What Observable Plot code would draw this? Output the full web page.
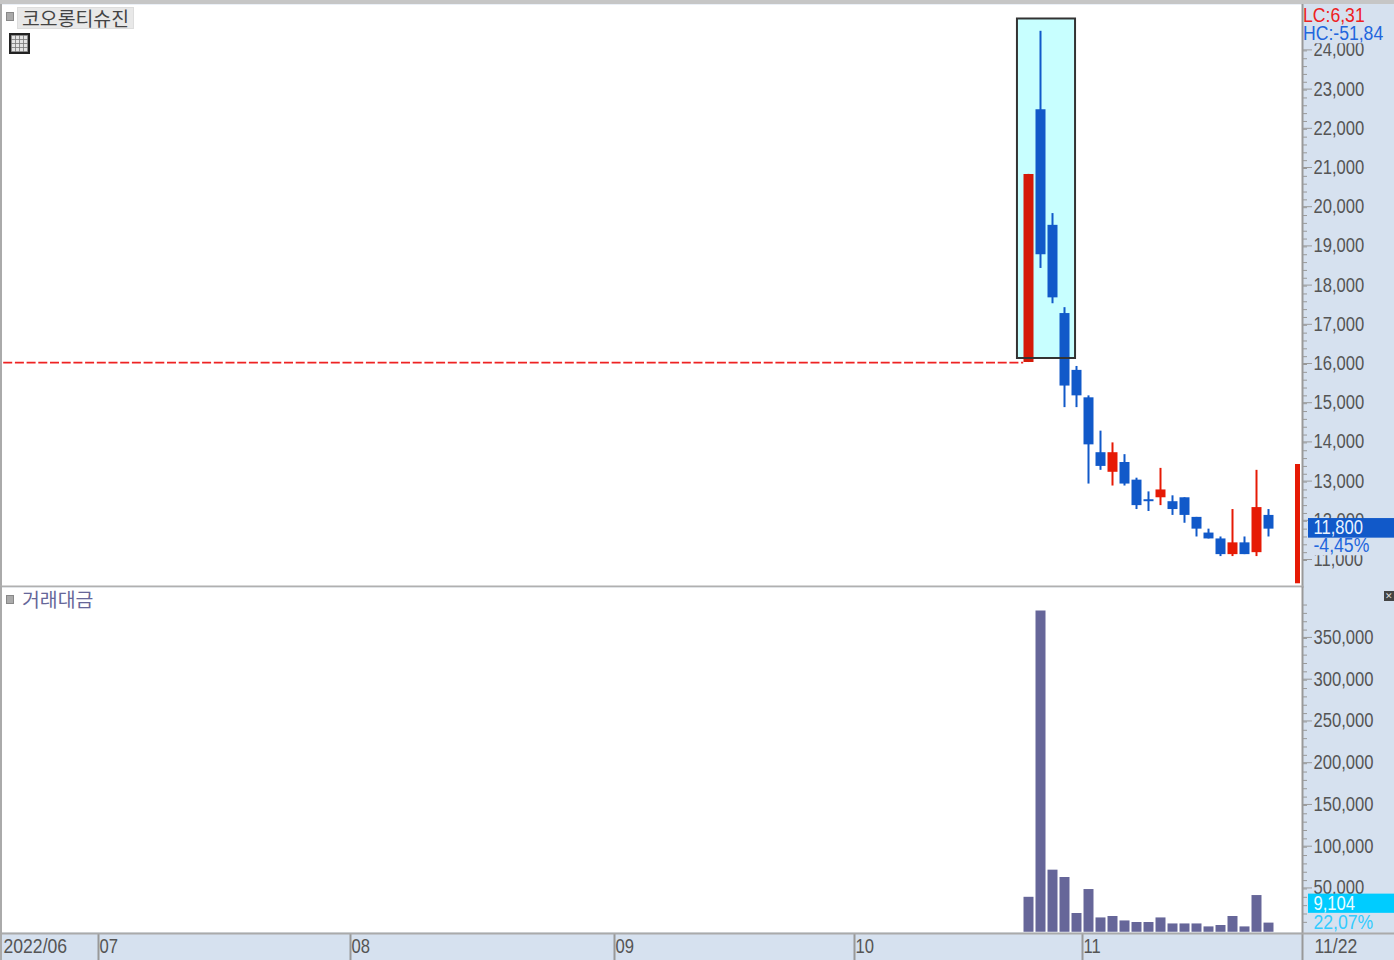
<!DOCTYPE html>
<html><head><meta charset="utf-8">
<script src="https://cdn.jsdelivr.net/npm/d3@7"></script>
<script src="https://cdn.jsdelivr.net/npm/@observablehq/plot@0.6"></script>
<style>
html,body{margin:0;padding:0;background:#d6e1ef;overflow:hidden}
#page{position:relative;width:1394px;height:960px;overflow:hidden}
#page svg{position:absolute;left:0;max-width:none;background:none}
.lab{position:absolute;font:19.4px "Noto Sans CJK KR",sans-serif;line-height:20px;white-space:nowrap}
.sq{position:absolute;left:6px;width:6px;height:7px;background:#aaa;border:1px solid #888}
</style></head><body><div id="page"></div>
<script>
// sessions counted back from the last session (2022-11-22)
const sessions = d3.range(-20, 1);
const dates = ["10/25","10/26","10/27","10/28","10/31","11/01","11/02","11/03","11/04","11/07","11/08","11/09","11/10","11/11","11/14","11/15","11/16","11/17","11/18","11/21","11/22"];
const opens  = [16050,22500,19550,17300,15850,15150,13750,13250,13500,13050,12550,12600,12500,12600,12100,11700,11550,11150,11450,11200,12150];
const highs  = [20850,24500,19850,17450,15950,15200,14300,14000,13700,13100,12750,13350,12650,12600,12100,11800,11600,12300,11600,13300,12300];
const lows   = [16050,18450,17550,14900,14900,12950,13300,12900,12900,12300,12250,12400,12150,11950,11600,11550,11100,11100,11150,11100,11600];
const closes = [20850,18800,17700,15450,15200,13950,13400,13750,12950,12400,12500,12800,12300,12150,11800,11550,11150,11450,11150,12350,11800];
const turnover = [40000,383000,72500,63700,20600,49300,15300,17000,11700,9800,9800,15300,8100,8100,8100,4550,6200,17000,4550,42100,9104];

const priceTicks = d3.range(11000, 24001, 1000);
const priceMinor = d3.range(11000, 24001, 200);
const volumeTicks = d3.range(50000, 350001, 50000);
const volumeMinor = d3.range(10000, 390001, 10000);
const monthLabels = ["2022/06","07","08","09","10","11"];
const monthStarts = [-105.5,-97.5,-76.5,-54.5,-34.5,-15.5];

const listingPrice = 16050;
const rangeLow = 10406, rangeHigh = 13449;
const boxSessions = [-20.92,-16.08], boxPrices = [16153,24814];

const C = {blue:"#1159c9", red:"#e61a05", panel:"#d6e1ef", line:"#999", text:"#555", vol:"#666699", cyan:"#00ccff"};
const font = '"Liberation Sans",sans-serif';
const xScale = {domain:[-1268/12, 34/12], range:[0,1302], axis:null};
const xEnd = 126/12, xLabel = 45/12, xBox = 40/12, xHead = 34.5/12;
const candles = sessions.map((s,i)=>({s,date:dates[i],o:opens[i],h:highs[i],l:lows[i],c:closes[i],up:closes[i]>=opens[i]}));
const col = (d,i)=>d.up?(d.s===-20?"#d41a08":C.red):C.blue;
const fmt = d3.format(",");

const base = {width:1394, marginLeft:0, marginRight:92, marginTop:0, marginBottom:0,
  style:{fontFamily:font,fontSize:"20px",background:"none",overflow:"visible"}};
const labelText = (arr,opt)=>Plot.text(arr,{textAnchor:"start",fontSize:20,...opt});
const majorAxis = ticks=>Plot.axisY({anchor:"right",ticks,tickSize:9,tickPadding:2,tickFormat:fmt,fill:C.text,stroke:C.line,fontSize:20,textAnchor:"start",dy:-1});
const minorAxis = ticks=>Plot.axisY({anchor:"right",ticks,tickSize:4,text:null,stroke:C.line});

const price = Plot.plot({...base, height:582, x:xScale, y:{domain:[11000-26/0.0392,11000+556/0.0392],range:[582,0],axis:null},
 marks:[
  Plot.frame({fill:"#fff",stroke:"none"}),
  Plot.rect([0],{x1:boxSessions[0],x2:boxSessions[1],y1:boxPrices[0],y2:boxPrices[1],fill:"#c8ffff"}),
  Plot.ruleY([listingPrice],{x1:-105.4,x2:-20.4,stroke:"#ee2222",strokeWidth:1.8,strokeDasharray:"9,2.7"}),
  Plot.ruleX(candles,{x:"s",y1:"l",y2:"h",stroke:col,strokeWidth:2}),
  Plot.ruleX(candles,{x:"s",y1:"o",y2:"c",stroke:col,strokeWidth:10}),
  Plot.rect([0],{x1:boxSessions[0],x2:boxSessions[1],y1:boxPrices[0],y2:boxPrices[1],fill:"none",stroke:"#333",strokeWidth:2}),
  Plot.ruleX([29/12],{y1:rangeLow,y2:rangeHigh,stroke:"#e61a05",strokeWidth:5}),
  minorAxis(priceMinor),
  majorAxis(priceTicks),
  Plot.rect([0],{x1:xHead,x2:xEnd,y1:24180,y2:25100,fill:C.panel}),
  Plot.rect([0],{x1:xBox,x2:xEnd,y1:11120,y2:11570,fill:C.panel}),
  Plot.rect([0],{x1:xBox,x2:xEnd,y1:11570,y2:12070,fill:C.blue}),
  labelText(["LC:6,31"],{x:xHead,y:24903,fill:"#ee2222"}),
  labelText(["HC:-51,84"],{x:xHead,y:24444,fill:"#2266dd"}),
  labelText(["11,800"],{x:xLabel,y:11829,fill:"#e8f2ff"}),
  labelText(["-4,45%"],{x:xLabel,y:11383,fill:"#2266dd"}),
  Plot.frame({anchor:"left",stroke:"#aaa",strokeWidth:3}),
  Plot.frame({anchor:"right",stroke:C.line,strokeWidth:2}),
  Plot.frame({anchor:"bottom",stroke:"#b0b0b0",strokeWidth:2})
 ]});
price.style.top="4px";

const volume = Plot.plot({...base, height:345, x:xScale, y:{domain:[-2156,411000],range:[345,0],axis:null},
 marks:[
  Plot.frame({fill:"#fff",stroke:"none"}),
  Plot.ruleX(candles,{x:"s",y1:-1900,y2:(d,i)=>turnover[i],stroke:C.vol,strokeWidth:10}),
  minorAxis(volumeMinor),
  majorAxis(volumeTicks),
  Plot.rect([0],{x1:xBox,x2:xEnd,y1:20800,y2:43800,fill:C.cyan}),
  labelText(["9,104"],{x:xLabel,y:32000,fill:"#eafcff"}),
  labelText(["22,07%"],{x:xLabel,y:9800,fill:"#33ccff"}),
  Plot.frame({anchor:"left",stroke:"#aaa",strokeWidth:3}),
  Plot.frame({anchor:"right",stroke:C.line,strokeWidth:2})
 ]});
volume.style.top="587px";

const timeAxis = Plot.plot({...base, marginRight:0, height:27,
 x:{domain:[-1268/12, xEnd],range:[0,1394],axis:null},
 marks:[
  Plot.ruleX(monthStarts.slice(1),{stroke:C.line,strokeWidth:2}),
  Plot.ruleX([34/12],{stroke:C.line,strokeWidth:2}),
  labelText(monthLabels,{x:(d,i)=>monthStarts[i],dx:1,frameAnchor:"middle",fill:C.text}),
  labelText(["11/22"],{x:46/12,frameAnchor:"middle",fill:C.text}),
  Plot.frame({anchor:"top",stroke:"#aaa",strokeWidth:2}),
  Plot.frame({anchor:"bottom",stroke:"#aaa",strokeWidth:1}),
  Plot.frame({anchor:"left",stroke:"#aaa",strokeWidth:3})
 ]});
timeAxis.style.top="933px";

const page=document.getElementById("page");
page.append(price,volume,timeAxis);
// the reference's labels use a narrow bitmap face: condense the installed one
page.querySelectorAll("svg text").forEach(t=>{
  const len=t.getComputedTextLength();
  const f=/[:%\/]/.test(t.textContent)?0.88:0.83;
  if(len>0){t.setAttribute("textLength",(len*f).toFixed(1));t.setAttribute("lengthAdjust","spacingAndGlyphs");}
});
page.insertAdjacentHTML("beforeend",`
<div style="position:absolute;left:0;top:0;width:1394px;height:4px;background:#c6c6c6"></div>
<div class="sq" style="top:12px"></div>
<div class="lab" style="left:17px;top:7px;height:20px;width:115px;background:#e8e8e8;border:1px solid #ddd;color:#444;text-align:center">코오롱티슈진</div>
<div style="position:absolute;left:9px;top:33px;width:17px;height:17px;border:2px solid #222;background:repeating-linear-gradient(90deg,rgba(120,120,120,.8) 0 1px,transparent 1px 4px),repeating-linear-gradient(0deg,rgba(120,120,120,.8) 0 1px,transparent 1px 4px),#e4e4e4"></div>
<div class="sq" style="top:595px"></div>
<div class="lab" style="left:22px;top:589px;color:#666699">거래대금</div>
<div style="position:absolute;left:1384px;top:591px;width:10px;height:10px;background:#444;color:#ddd;font:9px/10px sans-serif;text-align:center">✕</div>`);
</script></body></html>
